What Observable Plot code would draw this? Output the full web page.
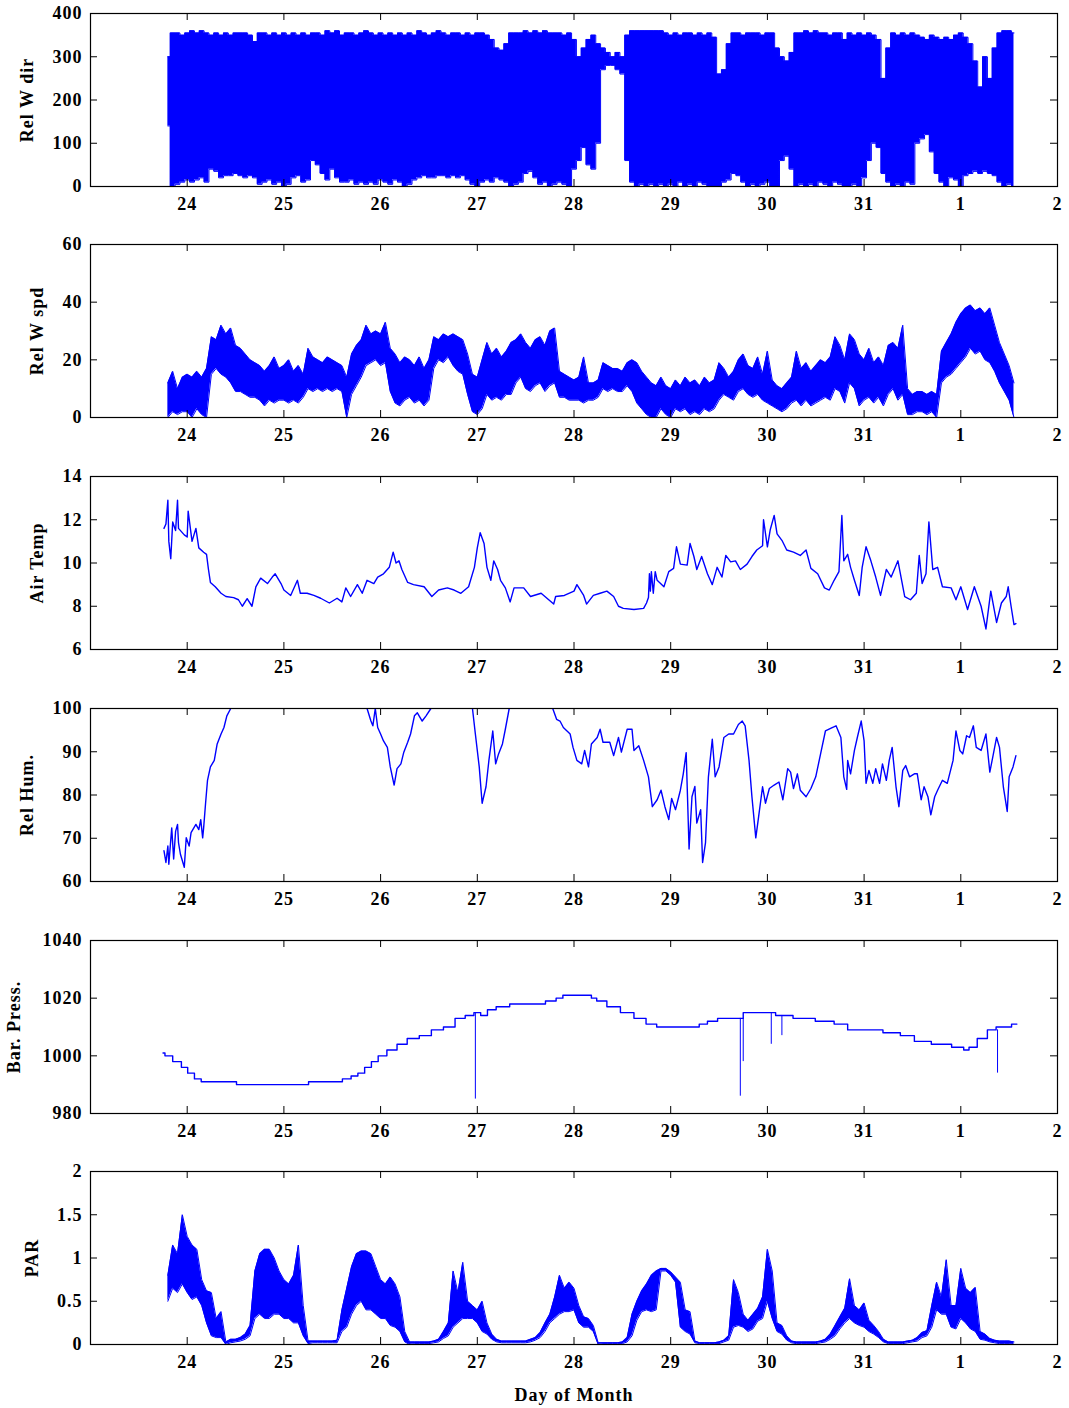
<!DOCTYPE html>
<html><head><meta charset="utf-8">
<script src="https://cdn.jsdelivr.net/npm/d3@7"></script>
<script src="https://cdn.jsdelivr.net/npm/@observablehq/plot@0.6"></script>
<style>
html,body{margin:0;padding:0;background:#fff;}
#chart{position:relative;width:1069px;height:1408px;overflow:hidden;}
#chart svg{position:absolute;left:0;}
svg text{font-family:"Liberation Serif",serif;font-weight:bold;font-size:18px;letter-spacing:1px;fill:#000;}
</style></head><body><div id="chart"></div>
<script>
// ---------- axes / ticks ----------
const dayTicks = [24, 25, 26, 27, 28, 29, 30, 31, 32, 33];   // 32 -> "1", 33 -> "2" (next month)
const dirTicks = [0, 100, 200, 300, 400];
const spdTicks = [0, 20, 40, 60];
const tempTicks = [6, 8, 10, 12, 14];
const humTicks = [60, 70, 80, 90, 100];
const presTicks = [980, 1000, 1020, 1040];
const parTicks = [0, 0.5, 1, 1.5, 2];

// ---------- regular 0.05-day grid for the dense (noisy) records ----------
const gridStart = 23.80, gridStep = 0.05;   // 23.80 ... 32.55

// Relative wind direction: envelope (upper / lower) of the dense trace
const dirHi = [
 300,355,355,350,
 355,360,355,360,355,350,355,350,355,350,355,355,355,350,335,355,355,350,355,350,
 355,350,355,350,355,350,355,355,350,360,355,360,350,355,355,350,355,360,355,350,
 355,350,355,350,355,350,355,350,360,355,350,355,360,355,350,355,355,350,355,350,
 355,355,350,340,320,315,330,355,355,355,360,355,360,355,360,355,355,355,350,355,
 340,300,320,340,350,330,320,310,300,310,300,350,360,360,360,360,360,360,360,355,
 350,355,350,355,355,350,355,350,355,345,260,270,330,355,355,350,355,355,355,350,
 355,355,320,300,290,310,355,355,360,355,360,355,355,350,355,355,340,355,350,355,
 350,355,350,340,250,320,355,350,355,350,355,350,345,340,350,345,340,345,340,350,
 355,345,330,290,230,300,250,320,355,360,360,355];
const dirLo = [
 140,0,5,10,
 15,10,15,20,10,40,35,20,25,25,30,25,20,25,20,5,10,15,5,10,
 0,5,20,25,10,15,60,50,30,15,40,20,10,10,15,5,10,5,10,5,
 15,10,5,15,10,0,5,15,20,25,20,20,25,25,20,25,20,25,15,5,
 0,10,15,10,20,15,10,0,5,10,30,35,20,5,10,0,5,10,5,0,
 40,60,90,50,40,100,270,280,280,270,260,60,10,0,5,0,5,0,5,0,
 5,0,10,0,5,0,10,5,0,0,0,10,15,30,25,10,0,5,0,5,
 10,0,0,60,70,40,0,5,0,5,0,10,5,0,10,5,0,0,5,0,
 20,60,100,90,30,10,0,5,0,10,5,100,110,120,80,30,10,0,20,15,
 0,25,30,35,30,35,30,25,10,0,5,0];

// Relative wind speed: envelope
const spdHi = [
 12,16,10,14,
 15,14,16,14,17,28,27,32,29,31,25,24,22,20,19,18,16,18,21,17,
 18,20,16,18,15,24,21,20,19,21,20,19,18,14,22,25,27,32,29,30,
 29,33,24,22,19,21,20,18,21,17,20,28,27,29,28,29,28,27,22,15,
 14,20,26,22,24,21,23,26,27,29,26,24,27,28,25,30,31,16,15,14,
 13,14,21,12,12,13,19,18,17,17,16,19,20,19,16,14,12,11,14,11,
 10,13,11,14,12,13,11,14,12,13,19,17,14,16,20,22,18,17,21,15,
 23,13,11,10,12,14,23,17,19,16,18,20,19,21,28,25,20,29,27,22,
 20,24,19,21,18,25,26,24,32,10,8,9,9,8,9,8,23,26,29,33,
 36,38,39,37,38,36,38,32,26,22,18,12];
const spdLo = [
 0,2,1,2,
 2,0,3,1,0,15,17,15,14,12,9,9,8,7,7,6,4,6,5,6,
 6,5,6,5,7,10,9,10,9,10,9,10,9,0,8,11,14,18,19,20,
 18,19,9,5,4,6,7,5,6,4,6,17,20,19,21,18,16,15,8,2,
 1,3,8,6,7,6,8,8,12,14,10,9,11,12,9,11,12,7,7,6,
 6,6,5,6,6,7,10,9,10,9,9,11,9,5,3,1,0,0,3,1,
 0,3,2,3,1,2,1,3,2,3,6,8,7,6,9,10,8,7,8,6,
 5,4,3,2,3,5,6,4,6,4,5,6,7,6,10,9,5,12,10,4,
 6,7,5,7,4,8,10,6,8,1,1,2,2,1,2,0,12,14,15,17,
 19,21,24,22,23,20,19,16,12,9,6,0];

// PAR: envelope
const parHi = [
 0.80,1.15,1.05,1.50,
 1.25,1.15,1.10,0.75,0.62,0.60,0.30,0.38,0.03,0.06,0.06,0.08,0.12,0.22,0.85,1.05,1.10,1.10,1.00,0.85,
 0.75,0.70,0.80,1.15,0.45,0.04,0.04,0.04,0.04,0.04,0.04,0.05,0.40,0.65,0.90,1.05,1.08,1.08,1.05,0.90,
 0.75,0.70,0.78,0.70,0.55,0.15,0.03,0.03,0.03,0.03,0.03,0.04,0.06,0.15,0.25,0.85,0.60,0.95,0.50,0.45,
 0.40,0.50,0.25,0.12,0.06,0.04,0.04,0.04,0.04,0.04,0.04,0.06,0.08,0.14,0.25,0.35,0.55,0.80,0.65,0.72,
 0.65,0.45,0.32,0.30,0.22,0.02,0.02,0.02,0.02,0.02,0.03,0.08,0.35,0.50,0.62,0.70,0.80,0.85,0.88,0.88,
 0.84,0.78,0.72,0.40,0.38,0.04,0.02,0.02,0.02,0.02,0.03,0.05,0.10,0.75,0.60,0.35,0.28,0.35,0.42,0.55,
 1.10,0.85,0.25,0.22,0.10,0.04,0.03,0.03,0.03,0.03,0.03,0.04,0.06,0.12,0.22,0.32,0.42,0.76,0.45,0.40,
 0.48,0.28,0.22,0.15,0.06,0.03,0.03,0.03,0.03,0.04,0.05,0.08,0.14,0.16,0.45,0.72,0.55,0.98,0.45,0.45,
 0.88,0.65,0.60,0.66,0.15,0.12,0.07,0.05,0.04,0.04,0.04,0.03];
const parLo = [
 0.50,0.65,0.60,0.70,
 0.60,0.52,0.55,0.45,0.25,0.10,0.08,0.08,0.00,0.02,0.03,0.04,0.06,0.10,0.30,0.35,0.30,0.30,0.35,0.35,
 0.30,0.30,0.25,0.25,0.10,0.01,0.02,0.02,0.02,0.02,0.02,0.02,0.15,0.20,0.35,0.45,0.50,0.40,0.40,0.35,
 0.30,0.30,0.22,0.20,0.15,0.03,0.00,0.01,0.01,0.01,0.01,0.02,0.03,0.07,0.10,0.20,0.25,0.30,0.30,0.30,
 0.25,0.15,0.12,0.06,0.03,0.02,0.02,0.02,0.02,0.02,0.02,0.03,0.05,0.08,0.15,0.25,0.30,0.35,0.38,0.38,
 0.40,0.25,0.20,0.20,0.15,0.00,0.01,0.01,0.01,0.01,0.01,0.03,0.10,0.28,0.38,0.40,0.38,0.40,0.85,0.85,
 0.80,0.72,0.20,0.15,0.12,0.02,0.01,0.01,0.01,0.01,0.01,0.03,0.05,0.20,0.22,0.20,0.15,0.18,0.27,0.30,
 0.50,0.30,0.15,0.12,0.05,0.02,0.01,0.01,0.01,0.01,0.01,0.02,0.03,0.06,0.10,0.18,0.25,0.30,0.25,0.22,
 0.20,0.15,0.12,0.08,0.03,0.01,0.01,0.01,0.01,0.02,0.03,0.04,0.08,0.10,0.20,0.40,0.35,0.35,0.20,0.18,
 0.30,0.25,0.18,0.15,0.06,0.05,0.03,0.02,0.01,0.01,0.01,0.00];

// ---------- line records: [day, value] ----------
const airTemp = [
 [23.76,11.6],[23.78,11.8],[23.80,12.9],[23.81,11.0],[23.83,10.2],[23.85,11.9],[23.88,11.5],[23.90,12.9],
 [23.91,11.6],[23.97,11.3],[24.00,11.2],[24.01,12.4],[24.05,11.0],[24.09,11.6],[24.12,10.7],[24.17,10.5],
 [24.20,10.4],[24.22,9.7],[24.24,9.1],[24.29,8.9],[24.35,8.6],[24.40,8.45],[24.48,8.4],[24.53,8.3],
 [24.57,8.0],[24.62,8.35],[24.67,8.0],[24.71,8.9],[24.76,9.3],[24.83,9.05],[24.88,9.35],[24.91,9.5],
 [24.97,9.05],[25.00,8.75],[25.07,8.5],[25.14,9.2],[25.17,8.6],[25.24,8.6],[25.31,8.5],[25.38,8.37],
 [25.47,8.15],[25.55,8.37],[25.60,8.2],[25.64,8.85],[25.69,8.45],[25.76,9.0],[25.81,8.6],[25.86,9.2],
 [25.93,9.05],[25.97,9.35],[26.03,9.5],[26.09,9.8],[26.13,10.5],[26.16,10.0],[26.19,10.1],[26.22,9.7],
 [26.28,9.1],[26.34,9.0],[26.45,8.9],[26.53,8.45],[26.60,8.75],[26.69,8.85],[26.76,8.75],[26.83,8.6],
 [26.91,8.9],[26.97,9.8],[27.00,10.7],[27.03,11.4],[27.07,10.9],[27.10,9.8],[27.14,9.2],[27.17,10.1],
 [27.21,9.7],[27.24,9.2],[27.29,8.85],[27.34,8.2],[27.38,8.85],[27.48,8.85],[27.55,8.45],[27.66,8.6],
 [27.79,8.1],[27.81,8.45],[27.90,8.5],[28.00,8.7],[28.03,9.0],[28.10,8.5],[28.13,8.1],[28.20,8.5],
 [28.27,8.6],[28.34,8.7],[28.41,8.45],[28.46,8.0],[28.51,7.9],[28.62,7.85],[28.72,7.9],[28.75,8.15],
 [28.77,8.4],[28.78,9.5],[28.79,8.7],[28.80,9.6],[28.82,8.6],[28.84,9.6],[28.86,9.2],[28.93,8.9],
 [28.98,9.6],[29.03,9.75],[29.06,10.75],[29.10,9.95],[29.17,9.9],[29.20,10.9],[29.24,10.3],[29.27,9.7],
 [29.32,10.3],[29.38,9.5],[29.43,9.0],[29.48,9.8],[29.53,9.35],[29.57,10.35],[29.62,10.05],[29.67,10.1],
 [29.72,9.7],[29.79,9.95],[29.84,10.3],[29.89,10.6],[29.95,10.8],[29.96,12.0],[30.00,10.75],[30.03,11.55],
 [30.07,12.2],[30.10,11.35],[30.15,11.05],[30.20,10.6],[30.27,10.5],[30.34,10.35],[30.40,10.6],[30.45,9.75],
 [30.52,9.5],[30.59,8.85],[30.64,8.75],[30.69,9.2],[30.74,9.6],[30.77,12.2],[30.79,10.1],[30.83,10.4],
 [30.86,9.8],[30.90,9.2],[30.95,8.5],[30.98,9.8],[31.02,10.75],[31.07,10.1],[31.12,9.35],[31.17,8.5],
 [31.23,9.7],[31.28,9.35],[31.35,10.1],[31.42,8.45],[31.48,8.3],[31.54,8.6],[31.57,10.35],[31.60,9.05],
 [31.64,9.5],[31.67,11.9],[31.71,9.7],[31.76,9.8],[31.81,8.9],[31.90,8.85],[31.95,8.3],[32.00,8.9],
 [32.07,7.85],[32.14,8.9],[32.21,8.0],[32.26,6.95],[32.31,8.7],[32.37,7.25],[32.42,8.15],[32.47,8.45],
 [32.49,8.9],[32.52,8.0],[32.55,7.15],[32.57,7.2]];

// relative humidity (null = trace above the 100 % frame edge)
const relHum = [
 [23.76,67.1],[23.78,64.4],[23.80,68.2],[23.81,64.0],[23.84,72.4],[23.86,65.2],[23.88,71.6],[23.90,73.2],
 [23.91,69.0],[23.93,66.3],[23.97,63.3],[23.99,70.1],[24.02,68.2],[24.04,71.3],[24.09,73.2],[24.12,72.0],
 [24.14,74.3],[24.16,70.1],[24.17,72.4],[24.19,78.1],[24.21,83.4],[24.24,86.5],[24.28,88.0],[24.31,91.8],
 [24.35,94.1],[24.38,95.6],[24.41,98.3],[24.45,100],[24.46,null],
 [25.86,100],[25.90,97.1],[25.92,96.0],[25.945,100],[25.97,95.6],[26.00,94.1],[26.03,92.5],[26.07,91.0],
 [26.10,86.5],[26.14,82.3],[26.17,86.1],[26.21,87.2],[26.24,89.9],[26.28,92.2],[26.31,94.1],[26.35,98.3],
 [26.38,99.0],[26.43,97.1],[26.47,98.3],[26.52,100],[26.53,null],
 [26.95,100],[26.98,94.1],[27.02,86.5],[27.05,78.1],[27.09,81.9],[27.12,88.0],[27.16,94.8],[27.19,87.2],
 [27.22,89.5],[27.26,91.8],[27.29,95.2],[27.33,100],[27.34,null],
 [27.78,100],[27.82,97.5],[27.855,97.1],[27.89,95.6],[27.96,94.1],[27.99,91.0],[28.03,88.0],[28.08,87.2],
 [28.11,90.3],[28.15,86.5],[28.18,91.8],[28.24,93.3],[28.27,95.2],[28.30,92.2],[28.37,92.2],[28.41,89.1],
 [28.46,93.3],[28.49,89.9],[28.55,95.2],[28.60,95.2],[28.62,90.3],[28.67,91.4],[28.72,88.0],[28.77,84.2],
 [28.81,77.3],[28.86,78.9],[28.90,81.1],[28.94,77.3],[28.98,74.3],[29.01,79.2],[29.05,76.6],[29.10,81.1],
 [29.13,84.9],[29.16,89.8],[29.19,67.5],[29.22,79.6],[29.25,82.0],[29.27,73.5],[29.31,76.6],[29.33,64.4],
 [29.36,69.0],[29.39,84.2],[29.43,92.9],[29.46,84.2],[29.50,86.5],[29.55,93.3],[29.60,94.1],[29.65,94.1],
 [29.70,96.3],[29.74,97.1],[29.77,96.0],[29.81,88.0],[29.84,79.6],[29.88,70.1],[29.91,75.1],[29.95,81.9],
 [29.98,78.1],[30.02,81.5],[30.07,82.3],[30.12,83.0],[30.16,78.9],[30.21,86.1],[30.24,85.3],[30.27,81.5],
 [30.31,84.9],[30.34,81.1],[30.40,79.6],[30.45,81.5],[30.50,84.2],[30.55,89.5],[30.60,94.8],[30.67,95.6],
 [30.71,96.0],[30.76,93.3],[30.79,84.2],[30.82,81.3],[30.83,88.0],[30.86,84.9],[30.90,90.3],[30.93,93.3],
 [30.97,97.1],[31.00,92.5],[31.02,82.7],[31.05,85.7],[31.09,82.7],[31.12,86.1],[31.16,82.7],[31.19,87.2],
 [31.23,83.4],[31.26,88.0],[31.29,91.0],[31.33,81.9],[31.36,77.3],[31.40,85.7],[31.43,86.8],[31.47,84.2],
 [31.52,84.9],[31.55,84.9],[31.59,78.9],[31.62,81.9],[31.66,79.6],[31.69,75.4],[31.73,79.6],[31.76,81.1],
 [31.81,83.4],[31.86,82.7],[31.92,88.0],[31.95,94.8],[31.99,90.3],[32.02,89.5],[32.06,93.7],[32.09,93.3],
 [32.13,96.0],[32.16,91.0],[32.21,90.3],[32.26,94.1],[32.30,85.3],[32.33,88.7],[32.37,93.3],[32.40,91.0],
 [32.44,81.9],[32.48,76.2],[32.50,84.2],[32.54,86.5],[32.57,89.1]];

// barometric pressure (1 hPa steps)
const barPress = [
 [23.75,1001],[23.79,1000],[23.91,998],[23.97,996],[24.04,994],[24.11,992],[24.18,991],[24.49,991],
 [24.53,990],[25.24,990],[25.27,991],[25.55,991],[25.66,992],[25.73,993],[25.80,994],[25.87,996],
 [25.94,998],[26.01,1000],[26.12,1002],[26.22,1004],[26.33,1006],[26.47,1007],[26.58,1009],[26.72,1010],
 [26.82,1013],[26.93,1014],[27.00,1015],[27.07,1014],[27.14,1016],[27.25,1017],[27.42,1018],[27.63,1018],
 [27.78,1019],[27.85,1020],[27.92,1021],[28.16,1021],[28.20,1020],[28.27,1019],[28.41,1017],[28.55,1015],
 [28.69,1013],[28.80,1011],[28.91,1010],[29.26,1010],[29.33,1011],[29.43,1012],[29.54,1013],[29.68,1013],
 [29.82,1015],[30.03,1015],[30.14,1014],[30.39,1013],[30.60,1012],[30.78,1011],[30.88,1009],[31.09,1009],
 [31.30,1008],[31.45,1007],[31.59,1005],[31.80,1004],[32.01,1003],[32.05,1002],[32.12,1003],[32.22,1006],
 [32.33,1009],[32.40,1010],[32.47,1010],[32.58,1011]];
// short downward spikes in the pressure record: [day, low value, level of trace]
const presSpikes = [[26.98,985,1015],[29.72,986,1013],[29.75,998,1013],[30.04,1004,1015],[30.15,1007,1014],[32.38,994,1009]];

// ---------- build ----------
const BLUE = "#0000ff";
const W = 1069, ML = 90, MR = 12, MT = 13;
const gridDay = i => +(gridStart + i * gridStep).toFixed(2);
const band = (hi, lo) => hi.map((h, i) => ({t: gridDay(i), hi: h, lo: lo[i]}));
const pairs = arr => arr.map(([t, v]) => ({t, v}));
const fmtDay = d => String(d > 31 ? d - 31 : d);

function panel({top, height = 232, marginBottom = 46, yDomain, yTicks, label, labelOffset, marks, xLabel = null}) {
  const plotH = height - MT - marginBottom;
  const plotW = W - ML - MR;
  const svg = Plot.plot({
    width: W, height, marginTop: MT, marginBottom, marginLeft: ML, marginRight: MR,
    style: {background: "transparent", overflow: "visible"},
    x: {domain: [23, 33], ticks: dayTicks, tickFormat: fmtDay, tickSize: 0, tickPadding: 11,
        label: xLabel, labelAnchor: "center", labelOffset: 56, labelArrow: "none"},
    y: {domain: yDomain, ticks: yTicks, tickFormat: d => String(d), tickSize: 0, tickPadding: 8,
        label, labelAnchor: "center", labelOffset, labelArrow: "none"},
    marks: [
      ...marks,
      Plot.tickX(dayTicks, {x: d => d, insetTop: plotH - 7, stroke: "#000"}),
      Plot.tickX(dayTicks, {x: d => d, insetBottom: plotH - 7, stroke: "#000"}),
      Plot.tickY(yTicks, {y: d => d, insetRight: plotW - 7, stroke: "#000"}),
      Plot.tickY(yTicks, {y: d => d, insetLeft: plotW - 7, stroke: "#000"}),
      Plot.frame({stroke: "#000", strokeWidth: 1.2})
    ]
  });
  svg.style.top = top + "px";
  document.getElementById("chart").appendChild(svg);
}

function bandMarks(data, curve = "linear") {
  return [
    Plot.areaY(data, {x: "t", y1: "lo", y2: "hi", fill: BLUE, curve, clip: true}),
    Plot.lineY(data, {x: "t", y: "hi", stroke: BLUE, strokeWidth: 1, curve, clip: true}),
    Plot.lineY(data, {x: "t", y: "lo", stroke: BLUE, strokeWidth: 1, curve, clip: true})
  ];
}

panel({top: 0, yDomain: [0, 400], yTicks: dirTicks, label: "Rel W dir", labelOffset: 70,
  marks: bandMarks(band(dirHi, dirLo), "step")});
panel({top: 231, yDomain: [0, 60], yTicks: spdTicks, label: "Rel W spd", labelOffset: 60,
  marks: bandMarks(band(spdHi, spdLo))});
panel({top: 463, yDomain: [6, 14], yTicks: tempTicks, label: "Air Temp", labelOffset: 60,
  marks: [Plot.lineY(pairs(airTemp), {x: "t", y: "v", stroke: BLUE, strokeWidth: 1.4, clip: true})]});
panel({top: 695, yDomain: [60, 100], yTicks: humTicks, label: "Rel Hum.", labelOffset: 70,
  marks: [Plot.lineY(pairs(relHum), {x: "t", y: "v", stroke: BLUE, strokeWidth: 1.4, clip: true})]});
panel({top: 927, yDomain: [980, 1040], yTicks: presTicks, label: "Bar. Press.", labelOffset: 83,
  marks: [
    Plot.lineY(pairs(barPress), {x: "t", y: "v", stroke: BLUE, strokeWidth: 1.4, curve: "step", clip: true}),
    Plot.ruleX(presSpikes, {x: d => d[0], y1: d => d[1], y2: d => d[2], stroke: BLUE, strokeWidth: 1, clip: true})
  ]});
panel({top: 1158, height: 250, marginBottom: 64, yDomain: [0, 2], yTicks: parTicks, label: "PAR", labelOffset: 65,
  xLabel: "Day of Month", marks: bandMarks(band(parHi, parLo))});
</script></body></html>
